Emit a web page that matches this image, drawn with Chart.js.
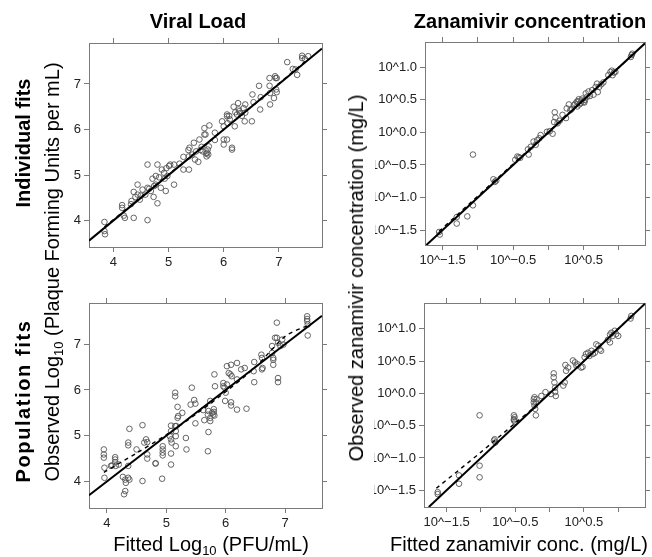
<!DOCTYPE html>
<html>
<head>
<meta charset="utf-8">
<script src="https://cdn.jsdelivr.net/npm/chart.js@4.4.1/dist/chart.umd.min.js"></script>
<style>
  body { margin: 0; background: #fff; }
  #wrap { position: relative; width: 652px; height: 557px; overflow: hidden; font-family: 'Liberation Sans', Arial, sans-serif; }
  canvas { position: absolute; left: 0; top: 0; }
  .t { position: absolute; white-space: nowrap; transform: translate(-50%, -50%); color: #000; font-size: 20px; line-height: 1; }
  .b { font-weight: bold; }
  .r { transform: translate(-50%, -50%) rotate(-90deg); }
  sub { font-size: 13px; vertical-align: -4px; line-height: 0; }
</style>
</head>
<body>
<div id="wrap">
  <canvas id="tl" width="652" height="557"></canvas>
  <canvas id="tr" width="652" height="557"></canvas>
  <canvas id="bl" width="652" height="557"></canvas>
  <canvas id="br" width="652" height="557"></canvas>

  <div class="t b" style="left:198px; top:21px">Viral Load</div>
  <div class="t b" style="left:530px; top:21px">Zanamivir concentration</div>
  <div class="t b r" style="left:23px; top:143px">Individual fits</div>
  <div class="t b r" style="left:23px; top:401px; letter-spacing:1.6px">Population fits</div>
  <div class="t r" style="left:52px; top:272px">Observed Log<sub>10</sub> (Plaque Forming Units per mL)</div>
  <div class="t r" style="left:356px; top:278px">Observed zanamivir concentration (mg/L)</div>
  <div class="t" style="left:211px; top:544px">Fitted Log<sub>10</sub> (PFU/mL)</div>
  <div class="t" style="left:519px; top:544px">Fitted zanamivir conc. (mg/L)</div>
</div>
<script>
// viral load: log10 PFU/mL, [fitted, observed]
const vlTicks = [4, 5, 6, 7];

const indivVL = [
  [3.84,3.97],[3.84,3.77],[3.85,3.70],[4.16,4.34],[4.16,4.28],[4.19,4.11],[4.21,4.06],[4.37,4.06],
  [4.32,4.36],[4.33,4.43],[4.37,4.63],[4.40,4.52],[4.44,4.57],[4.48,4.46],[4.44,4.79],[4.53,4.68],
  [4.62,5.23],[4.62,4.01],[4.58,4.57],[4.62,4.72],[4.68,4.65],[4.71,4.92],[4.73,4.52],[4.74,4.76],
  [4.77,4.79],[4.80,5.23],[4.80,4.38],[4.77,4.98],[4.83,4.95],[4.86,4.72],[4.88,5.12],[4.92,5.05],
  [4.93,4.92],[4.95,4.65],[4.96,5.15],[4.98,4.98],[5.01,5.20],[5.03,5.23],[5.10,5.23],[5.10,4.79],
  [5.27,5.40],[5.27,5.12],[5.37,5.12],[5.36,5.55],[5.38,5.60],[5.37,5.41],[5.43,5.45],[5.46,5.71],
  [5.48,5.34],[5.54,5.29],[5.50,5.52],[5.56,5.78],[5.65,6.03],[5.65,5.89],[5.62,5.52],[5.70,5.49],
  [5.71,5.56],[5.69,5.41],[5.67,5.89],[5.74,6.09],[5.73,5.63],[5.84,5.93],[5.84,5.77],[5.97,6.18],
  [6.00,6.07],[6.00,5.78],[6.00,5.67],[6.06,6.33],[6.06,6.29],[6.06,5.78],[6.07,6.14],[6.11,6.22],
  [6.15,5.60],[6.15,5.56],[6.18,6.50],[6.20,6.07],[6.21,6.38],[6.24,6.33],[6.26,6.58],[6.27,6.44],
  [6.30,6.36],[6.36,6.47],[6.38,6.18],[6.39,6.55],[6.39,6.37],[6.51,6.18],[6.52,6.77],[6.54,6.60],
  [6.64,6.96],[6.66,6.44],[6.67,6.71],[6.83,7.13],[6.83,6.96],[6.84,6.80],[6.84,6.55],[6.91,6.69],
  [6.93,7.17],[6.94,7.13],[6.95,6.88],[6.96,7.13],[6.96,6.82],[7.15,7.48],[7.25,7.33],[7.30,7.32],
  [7.33,7.20],[7.42,7.62],[7.42,7.57],[7.47,7.55],[7.53,7.61],[5.68,5.47],[5.72,5.45],[5.58,5.55],
  [5.60,5.62],[6.10,6.30],[6.28,6.40],[6.33,6.30],[4.50,4.55],[4.65,4.70],[5.20,5.25]
];
const indivVLFit = [[3.84,3.86],[5.0,5.01],[6.0,6.0],[7.53,7.55]];

const popVL = [
  [3.95,4.70],[3.95,4.59],[3.95,4.52],[3.96,4.30],[3.96,4.08],[4.07,4.34],[4.09,4.35],[4.14,4.53],
  [4.14,4.48],[4.14,4.42],[4.15,4.34],[4.20,4.37],[4.27,4.10],[4.31,4.04],[4.32,3.97],[4.31,3.79],
  [4.29,3.72],[4.36,4.08],[4.38,4.04],[4.36,4.34],[4.38,5.15],[4.36,4.85],[4.36,4.79],[4.50,4.70],
  [4.60,5.23],[4.60,4.01],[4.63,4.85],[4.66,4.92],[4.68,4.86],[4.68,4.59],[4.68,4.50],[4.82,4.39],
  [4.82,4.40],[4.94,4.77],[4.94,4.70],[4.94,4.63],[4.94,4.57],[4.93,4.06],[5.08,5.22],[5.08,5.10],
  [5.06,4.99],[5.08,4.92],[5.09,4.85],[5.08,4.61],[5.08,4.37],[5.16,5.10],[5.16,4.99],[5.16,4.77],
  [5.15,5.21],[5.17,5.21],[5.15,5.94],[5.15,5.86],[5.19,5.39],[5.20,5.43],[5.19,5.63],[5.27,5.50],
  [5.33,4.95],[5.34,4.70],[5.41,5.68],[5.47,5.78],[5.49,5.70],[5.43,6.05],[5.49,5.27],[5.62,5.56],
  [5.64,5.34],[5.70,4.66],[5.71,5.08],[5.74,5.32],[5.74,5.39],[5.70,5.46],[5.71,5.54],[5.77,5.50],
  [5.79,5.46],[5.80,5.52],[5.81,5.44],[5.80,5.58],[5.74,5.76],[5.82,6.08],[5.81,6.34],[5.96,6.08],
  [5.96,6.15],[5.98,6.05],[6.00,5.94],[6.02,6.12],[5.99,5.76],[6.02,6.52],[6.05,6.37],[6.08,6.34],
  [6.10,6.30],[6.09,6.55],[6.09,5.73],[6.09,5.66],[6.19,6.59],[6.19,6.23],[6.19,5.57],[6.26,6.45],
  [6.32,6.48],[6.35,5.59],[6.47,6.41],[6.48,6.61],[6.48,6.17],[6.60,6.77],[6.61,6.70],[6.61,6.45],
  [6.62,6.48],[6.78,6.96],[6.78,6.81],[6.80,6.70],[6.80,6.66],[6.80,6.55],[6.83,7.14],[6.86,7.14],
  [6.88,7.03],[6.86,7.47],[6.95,7.10],[6.92,6.96],[6.88,6.26],[6.88,6.17],[6.97,6.99],[7.37,7.61],
  [7.37,7.55],[7.37,7.50],[7.38,7.43],[7.38,7.19]
];
const popVLFit = [[3.95,4.20],[4.5,4.62],[5.0,5.02],[5.5,5.47],[6.0,5.96],[6.5,6.50],[7.0,7.17],[7.4,7.42]];

// zanamivir: log10 mg/L, [fitted, observed]
const znTicks = [-1.5, -1.0, -0.5, 0.0, 0.5, 1.0];
const znXLabeled = [-1.5, -0.5, 0.5];

const indivZN = [
  [-1.55,-1.53],[-1.54,-1.57],[-1.30,-1.30],[-1.30,-1.40],[-1.15,-1.29],[-1.07,-1.12],[-1.07,-0.34],
  [-0.78,-0.72],[-0.76,-0.76],[-0.74,-0.74],[-0.47,-0.42],[-0.44,-0.37],[-0.42,-0.38],[-0.40,-0.39],
  [-0.29,-0.26],[-0.28,-0.34],[-0.25,-0.22],[-0.21,-0.14],[-0.18,-0.19],[-0.16,-0.12],[-0.13,-0.09],
  [-0.11,-0.04],[-0.02,0.01],[0.02,0.02],[0.06,-0.02],[0.08,0.16],[0.09,0.31],[0.10,0.23],[0.13,0.14],
  [0.16,0.18],[0.20,0.27],[0.25,0.22],[0.26,0.37],[0.29,0.43],[0.31,0.34],[0.33,0.36],[0.36,0.42],
  [0.38,0.44],[0.40,0.47],[0.41,0.40],[0.42,0.48],[0.43,0.51],[0.44,0.43],[0.46,0.45],[0.47,0.49],
  [0.48,0.52],[0.50,0.47],[0.51,0.46],[0.52,0.50],[0.53,0.60],[0.55,0.55],[0.57,0.63],[0.59,0.56],
  [0.62,0.65],[0.64,0.58],[0.67,0.70],[0.69,0.75],[0.70,0.62],[0.72,0.70],[0.75,0.74],[0.78,0.77],
  [0.85,0.88],[0.88,0.93],[0.90,0.95],[0.91,0.88],[0.93,0.92],[0.95,0.93],[1.17,1.16],[1.18,1.19],
  [1.19,1.21]
];
const indivZNFit = [[-1.55,-1.52],[0.0,0.01],[1.19,1.19]];

const popZN = [
  [-1.63,-1.53],[-1.63,-1.56],[-1.32,-1.27],[-1.32,-1.40],[-1.02,-0.34],[-1.02,-1.12],[-1.02,-1.30],
  [-0.81,-0.73],[-0.79,-0.76],[-0.80,-0.71],[-0.52,-0.34],[-0.52,-0.40],[-0.52,-0.42],[-0.51,-0.37],
  [-0.50,-0.44],[-0.23,-0.09],[-0.23,-0.14],[-0.22,-0.19],[-0.22,-0.06],[-0.20,-0.14],[-0.20,-0.34],
  [-0.21,-0.24],[-0.19,-0.09],[-0.12,-0.04],[-0.06,0.02],[0.02,-0.01],[0.06,0.31],[0.06,0.25],
  [0.07,0.17],[0.08,0.09],[0.08,0.02],[0.09,-0.04],[0.20,0.12],[0.22,0.17],[0.23,0.44],[0.27,0.40],
  [0.24,0.35],[0.34,0.51],[0.37,0.48],[0.39,0.43],[0.41,0.45],[0.46,0.40],[0.48,0.41],[0.51,0.56],
  [0.53,0.61],[0.56,0.63],[0.58,0.58],[0.61,0.66],[0.63,0.61],[0.66,0.63],[0.68,0.76],[0.71,0.74],
  [0.73,0.68],[0.75,0.66],[0.85,0.83],[0.88,0.91],[0.90,0.94],[0.92,0.89],[0.95,0.97],[0.97,0.92],
  [1.00,0.89],[0.88,0.79],[1.18,1.16],[1.19,1.20]
];
const popZNFit = [[-1.65,-1.47],[-1.0,-0.91],[-0.5,-0.46],[-0.2,-0.19],[0.5,0.50],[1.2,1.20]];

const boxColor = '#7a7a7a';
const tickFont = { family: 'Liberation Sans', size: 13 };
const W = 652, H = 557;
const YW = 50, XH = 26, SIDE = 6;

const fmtVL = v => String(v);
const fmtZN = v => '10^' + v.toFixed(1).replace('-', '\u2212');

function axis(pos, range, ticks, fmt) {
  return {
    type: 'linear',
    position: pos,
    min: range[0],
    max: range[1],
    bounds: 'data',
    afterBuildTicks: s => { s.ticks = ticks.map(v => ({ value: v })); },
    afterFit: s => {
      if (pos === 'left') s.width = YW;
      else if (pos === 'bottom') s.height = XH;
      else if (pos === 'top') s.height = SIDE;
      else s.width = SIDE;
    },
    grid: { drawOnChartArea: false, drawTicks: true, tickLength: 5, color: boxColor, lineWidth: 1 },
    border: { display: true, color: boxColor, width: 1 },
    ticks: { font: tickFont, color: '#222', padding: 3, autoSkip: false, maxRotation: 0, callback: fmt }
  };
}

function panel(id, box, pts, fit, xr, yr, ticks, xFmt, yFmt) {
  const lo = Math.max(xr[0], yr[0]), hi = Math.min(xr[1], yr[1]);
  new Chart(document.getElementById(id), {
    type: 'scatter',
    data: {
      datasets: [
        { data: [{ x: lo, y: lo }, { x: hi, y: hi }], showLine: true, borderColor: '#000', borderWidth: 2, pointRadius: 0 },
        { data: fit.map(p => ({ x: p[0], y: p[1] })), showLine: true, borderColor: '#000', borderWidth: 1.4, borderDash: [4, 4], pointRadius: 0, tension: 0.3 },
        { data: pts.map(p => ({ x: p[0], y: p[1] })), pointRadius: 2.8, borderWidth: 0.9, borderColor: '#555', backgroundColor: 'rgba(0,0,0,0)' }
      ]
    },
    options: {
      responsive: false,
      animation: false,
      events: [],
      devicePixelRatio: 1,
      layout: { padding: { left: box[0] - YW, right: W - box[1] - SIDE, top: box[2] - SIDE, bottom: H - box[3] - XH } },
      plugins: { legend: { display: false }, tooltip: { enabled: false } },
      scales: {
        x: axis('bottom', xr, ticks, xFmt),
        y: axis('left', yr, ticks, yFmt),
        x2: axis('top', xr, ticks, () => ''),
        y2: axis('right', yr, ticks, () => '')
      }
    }
  });
}

panel('tl', [89, 322, 43, 247], indivVL, indivVLFit, [3.56, 7.78], [3.42, 7.90], vlTicks, fmtVL, fmtVL);
panel('bl', [89, 322, 303, 508], popVL, popVLFit, [3.70, 7.62], [3.42, 7.90], vlTicks, fmtVL, fmtVL);
panel('tr', [425, 645, 42, 245], indivZN, indivZNFit, [-1.75, 1.37], [-1.73, 1.39], znTicks,
  v => znXLabeled.includes(v) ? fmtZN(v) : '', fmtZN);
panel('br', [424, 645, 303, 507], popZN, popZNFit, [-1.83, 1.39], [-1.76, 1.40], znTicks,
  v => znXLabeled.includes(v) ? fmtZN(v) : '', fmtZN);
</script>
</body>
</html>
